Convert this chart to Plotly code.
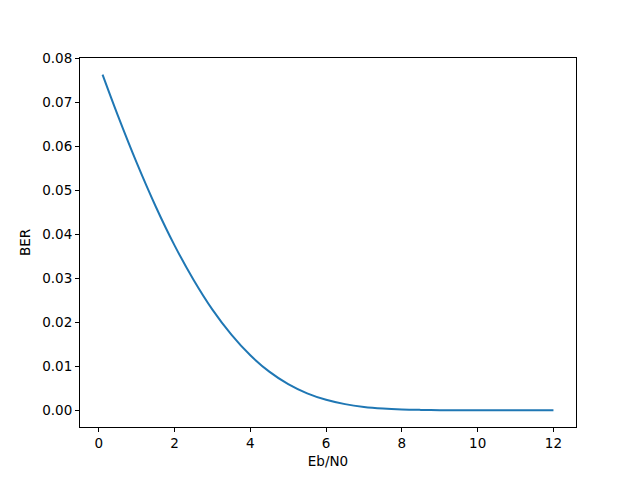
import plotly.graph_objects as go

# Eb/N0 (dB) and BER values
ebn0 = [0.1, 0.5, 1.0, 1.5, 2.0, 2.5, 3.0, 3.5, 4.0, 4.5, 5.0, 5.5, 6.0,
        6.5, 7.0, 7.5, 8.0, 8.5, 9.0, 9.5, 10.0, 11.0, 12.0]
ber = [0.0763, 0.0671, 0.0563, 0.0464, 0.0375, 0.0297, 0.0229, 0.0172,
       0.0125, 0.00879, 0.00595, 0.00386, 0.00239, 0.00140, 0.00077,
       0.00040, 0.00019, 0.00009, 0.000034, 0.000012, 0.000004,
       0.0000003, 0.0]

x_ticks = [0, 2, 4, 6, 8, 10, 12]
y_ticks = [0.00, 0.01, 0.02, 0.03, 0.04, 0.05, 0.06, 0.07, 0.08]

fig = go.Figure()
fig.add_trace(go.Scatter(x=ebn0, y=ber, mode="lines",
                         line=dict(color="#1f77b4", width=2, shape="spline"),
                         showlegend=False))

axis_common = dict(showgrid=False, zeroline=False, showline=True,
                   linecolor="black", linewidth=1, mirror=True,
                   ticks="outside", ticklen=4, tickcolor="black",
                   tickfont=dict(family="DejaVu Sans", size=13.5, color="black"))

fig.update_xaxes(range=[-0.495, 12.595], tickvals=x_ticks,
                 ticktext=[str(v) for v in x_ticks],
                 title=dict(text="Eb/N0", font=dict(family="DejaVu Sans", size=13.5, color="black"),
                            standoff=6),
                 **axis_common)
fig.update_yaxes(range=[-0.0038, 0.0801], tickvals=y_ticks,
                 ticktext=[f"{v:.2f}" for v in y_ticks],
                 title=dict(text="BER", font=dict(family="DejaVu Sans", size=13.5, color="black"),
                            standoff=8),
                 **axis_common)

# page body adds an 8px offset; margins compensate so the plot area lands at
# x 80..576, y 58..427 in the 640x480 window
fig.update_layout(width=640, height=480, plot_bgcolor="white", paper_bgcolor="white",
                  margin=dict(l=72, r=72, t=50, b=61, autoexpand=False))

fig.write_html("out.html")
